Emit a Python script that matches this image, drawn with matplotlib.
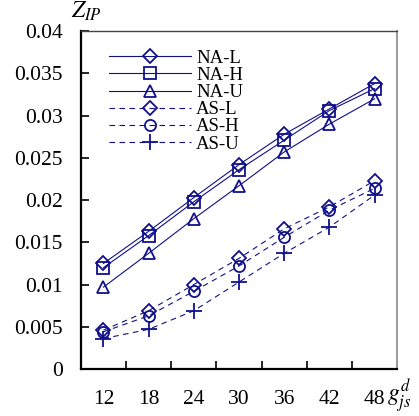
import numpy as np
import matplotlib.pyplot as plt

plt.rcParams['font.family'] = ['Liberation Serif', 'DejaVu Serif']
plt.rcParams['mathtext.fontset'] = 'stix'

# data
g_labels = ['12', '18', '24', '30', '36', '42', '48']
na_l = [0.0125, 0.0163, 0.0203, 0.0242, 0.0278, 0.0308, 0.0338]
na_h = [0.0120, 0.0158, 0.0198, 0.0236, 0.0271, 0.0306, 0.0332]
na_u = [0.0097, 0.0137, 0.0178, 0.0217, 0.0257, 0.0290, 0.0320]
as_l = [0.0046, 0.0069, 0.0100, 0.0131, 0.0166, 0.0192, 0.0223]
as_h = [0.0044, 0.0063, 0.0092, 0.0122, 0.0156, 0.0188, 0.0214]
as_u = [0.0036, 0.0047, 0.0069, 0.0103, 0.0137, 0.0168, 0.0206]

col = '#10108a'
x = np.arange(len(g_labels))

fig = plt.figure(figsize=(4.19, 4.16), dpi=100)
ax = fig.add_axes([0.193, 0.113, 0.755, 0.812])

base = dict(color=col, lw=0.8, mfc='none', mew=1.3)
dash = (0, (5, 4))
ax.plot(x, na_l, marker='D', ms=7, **base, label='NA-L')
ax.plot(x, na_h, marker='s', ms=8, **base, label='NA-H')
ax.plot(x, na_u, marker='^', ms=9, **base, label='NA-U')
ax.plot(x, as_l, marker='D', ms=7, ls=dash, **base, label='AS-L')
ax.plot(x, as_h, marker='o', ms=8, ls=dash, **base, label='AS-H')
ax.plot(x, as_u, marker='+', ms=11, ls=dash, **base, label='AS-U')

ax.set_xlim(-0.5, 6.5)
ax.set_ylim(0, 0.04)
ax.set_yticks(np.arange(0, 0.0401, 0.005))
ax.set_yticklabels(['0', '0.005', '0.01', '0.015', '0.02', '0.025', '0.03', '0.035', '0.04'])
ax.set_xticks(x)
ax.set_xticklabels(g_labels)
ax.set_xticks(np.arange(0.5, 6.5, 1), minor=True)
ax.tick_params(axis='x', which='major', length=0, pad=15, labelsize=15.5)
ax.tick_params(axis='x', which='minor', direction='in', length=6, width=1.2)
ax.tick_params(axis='y', direction='in', length=6, width=1.2, labelsize=15.5, pad=13)

for s in ['left', 'bottom']:
    ax.spines[s].set_linewidth(1.6)
    ax.spines[s].set_color('black')
ax.spines['top'].set_color('#444444')
ax.spines['top'].set_linewidth(1.0)
ax.spines['right'].set_color('#999999')
ax.spines['right'].set_linewidth(1.4)

ax.text(-0.03, 1.06, '$Z_{IP}$', transform=ax.transAxes, fontsize=17, ha='left', va='center')
ax.text(0.968, -0.078, '$g_{js}^{d}$', transform=ax.transAxes, fontsize=17, ha='left', va='center')

ax.legend(loc='upper left', frameon=False, fontsize=13.5, handlelength=4.4,
          handletextpad=0.25, labelspacing=0.0, bbox_to_anchor=(0.035, 0.995))

fig.savefig('out.png', dpi=100)
